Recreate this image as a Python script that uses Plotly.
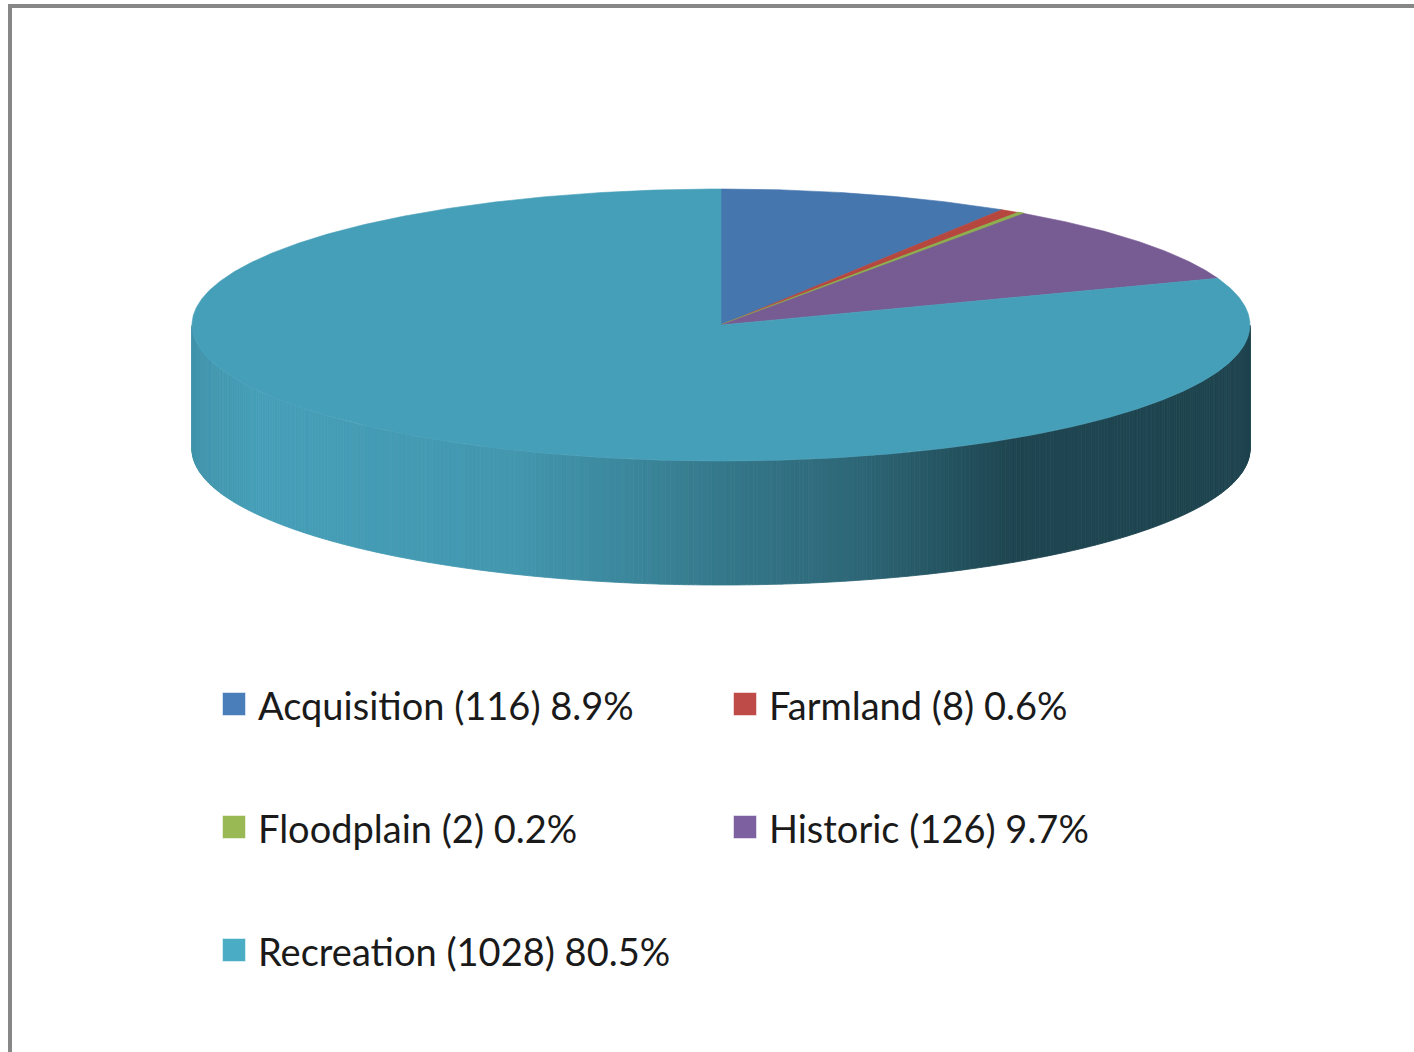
import numpy as np
import plotly.graph_objects as go

# ---- data ----
categories = ["Acquisition", "Farmland", "Floodplain", "Historic", "Recreation"]
counts = [116, 8, 2, 126, 1028]
percents = [8.9, 0.6, 0.2, 9.7, 80.5]

# ---- styles ----
top_colors = ["#4676AE", "#B5473F", "#8EAE50", "#775B93", "#469FB8"]
legend_colors = ["#4A7EBB", "#BE4B48", "#98B954", "#7D60A0", "#4BACC6"]
FONT = "Lato, Carlito, Calibri, 'Open Sans', sans-serif"

# ---- layout geometry (page pixels) ----
W, H = 1414, 1052
CX, CY = 721, 325          # centre of top face
RX, RY = 529, 136          # ellipse radii of top face
DEPTH = 124                # thickness of the pie

# shading of the side wall as a function of u = (x - CX) / RX
shade_u = [-1.0, -0.88, -0.4, -0.2, 0.0, 0.25, 0.45, 0.55, 1.0]
shade_f = [0.93, 1.0, 0.95, 0.86, 0.755, 0.65, 0.51, 0.435, 0.43]


def hex_to_rgb(h):
    h = h.lstrip("#")
    return np.array([int(h[i:i + 2], 16) for i in (0, 2, 4)], dtype=float)


def rgb_str(a):
    a = np.clip(np.round(a), 0, 255).astype(int)
    return f"rgb({a[0]},{a[1]},{a[2]})"


def ell(theta_deg, dy=0.0):
    t = np.radians(theta_deg)
    return CX + RX * np.sin(t), CY - RY * np.cos(t) + dy


fig = go.Figure()

total = float(sum(percents))
starts = np.concatenate([[0.0], np.cumsum(percents)[:-1]]) / total * 360.0
ends = np.cumsum(percents) / total * 360.0

# ---- side wall (front half: 90..270 deg), drawn as thin shaded strips ----
for i, (a0, a1) in enumerate(zip(starts, ends)):
    lo, hi = max(a0, 90.0), min(a1, 270.0)
    if hi <= lo:
        continue
    base = hex_to_rgb(top_colors[i])
    n = max(2, int((hi - lo) * 2))
    edges = np.linspace(lo, hi, n + 1)
    for ta, tb in zip(edges[:-1], edges[1:]):
        ts = np.linspace(ta, tb, 3)
        xt, yt = ell(ts)
        xb, yb = ell(ts[::-1], DEPTH)
        xm, _ = ell((ta + tb) / 2)
        f = np.interp((xm - CX) / RX, shade_u, shade_f)
        col = rgb_str(base * f)
        fig.add_trace(go.Scatter(
            x=np.concatenate([xt, xb, xt[:1]]),
            y=np.concatenate([yt, yb, yt[:1]]),
            mode="lines", fill="toself", fillcolor=col,
            line=dict(color=col, width=0.8),
            hoverinfo="skip", showlegend=False))

# ---- top face sectors ----
for i, (a0, a1) in enumerate(zip(starts, ends)):
    ts = np.linspace(a0, a1, max(3, int((a1 - a0) * 3)))
    xa, ya = ell(ts)
    xs = np.concatenate([[CX], xa, [CX]])
    ys = np.concatenate([[CY], ya, [CY]])
    lw = 1.6 if (a1 - a0) < 1.5 else 0.6
    fig.add_trace(go.Scatter(
        x=xs, y=ys, mode="lines", fill="toself",
        fillcolor=top_colors[i], line=dict(color=top_colors[i], width=lw),
        name=categories[i], hoverinfo="name", showlegend=False))

# ---- legend (two columns) ----
col_x = [234, 745]
row_y0, row_dy = 704, 123
for i, cat in enumerate(categories):
    x = col_x[i % 2]
    y = row_y0 + (i // 2) * row_dy
    fig.add_trace(go.Scatter(
        x=[x], y=[y], mode="markers",
        marker=dict(symbol="square", size=23, color=legend_colors[i],
                    line=dict(color="rgba(255,255,255,0.5)", width=1)),
        hoverinfo="skip", showlegend=False))
    fig.add_annotation(
        x=x + 22, y=y + 1, xref="x", yref="y", xanchor="left", yanchor="middle",
        text=f"{cat} ({counts[i]}) {percents[i]}%", showarrow=False,
        font=dict(family=FONT, size=38, color="#1a1a1a"))

# ---- chart frame ----
fig.add_shape(type="line", xref="x", yref="y", x0=10, x1=10, y0=4, y1=H + 20,
              line=dict(color="#878787", width=4))
fig.add_shape(type="line", xref="x", yref="y", x0=8, x1=W + 20, y0=6, y1=6,
              line=dict(color="#878787", width=4))

fig.update_layout(
    width=W, height=H,
    margin=dict(l=0, r=0, t=0, b=0),
    paper_bgcolor="white", plot_bgcolor="white",
    showlegend=False,
    xaxis=dict(range=[0, W], visible=False, fixedrange=True),
    yaxis=dict(range=[H, 0], visible=False, fixedrange=True),
)

fig.write_html("out.html",
               config={"displayModeBar": False},
               post_script="document.body.style.margin='0';"
                           "document.body.style.overflow='hidden';")
